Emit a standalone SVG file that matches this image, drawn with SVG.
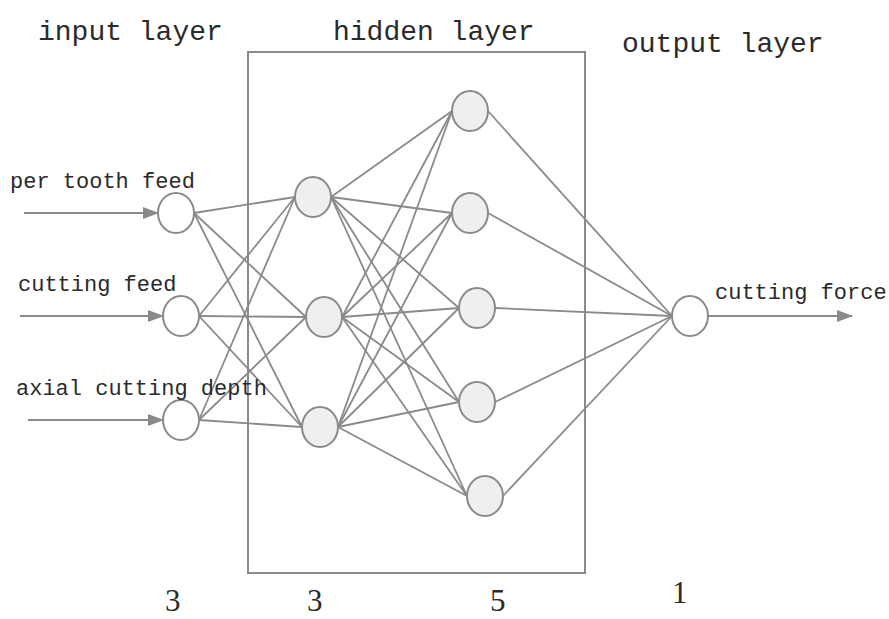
<svg xmlns="http://www.w3.org/2000/svg" width="889" height="619" viewBox="0 0 889 619">
<style>
.t{font-family:"Liberation Mono","DejaVu Sans Mono",monospace;fill:#2a2a2a}
.h{font-size:28px}
.l{font-size:22px}
.n{font-family:"Liberation Serif",serif;font-size:31px;fill:#2a2a2a}
.c line{stroke:#8a8a8a;stroke-width:1.8}
.a{stroke:#8a8a8a;stroke-width:2;marker-end:url(#ar)}
.in ellipse{fill:#fff;stroke:#8a8a8a;stroke-width:2}
.hid ellipse{fill:#efefef;stroke:#8a8a8a;stroke-width:2}
</style>
<defs>
<marker id="ar" markerWidth="16" markerHeight="12" refX="15" refY="6" orient="auto" markerUnits="userSpaceOnUse">
<path d="M0,0 L16,6 L0,12 Z" fill="#8a8a8a"/>
</marker>
</defs>
<rect width="889" height="619" fill="#fff"/>
<rect x="248" y="52" width="337" height="521" fill="none" stroke="#8a8a8a" stroke-width="2"/>
<text class="t h" x="38" y="40">input layer</text>
<text class="t h" x="333" y="40">hidden layer</text>
<text class="t h" x="622" y="52">output layer</text>
<g class="c" id="connectors">
<line x1="194" y1="213" x2="295" y2="197"/>
<line x1="194" y1="213" x2="306" y2="317"/>
<line x1="194" y1="213" x2="302" y2="427"/>
<line x1="199" y1="316" x2="295" y2="197"/>
<line x1="199" y1="316" x2="306" y2="317"/>
<line x1="199" y1="316" x2="302" y2="427"/>
<line x1="199" y1="420" x2="295" y2="197"/>
<line x1="199" y1="420" x2="306" y2="317"/>
<line x1="199" y1="420" x2="302" y2="427"/>
<line x1="331" y1="197" x2="452" y2="111"/>
<line x1="331" y1="197" x2="452" y2="213"/>
<line x1="331" y1="197" x2="459" y2="308"/>
<line x1="331" y1="197" x2="459" y2="402"/>
<line x1="331" y1="197" x2="467" y2="496"/>
<line x1="342" y1="317" x2="452" y2="111"/>
<line x1="342" y1="317" x2="452" y2="213"/>
<line x1="342" y1="317" x2="459" y2="308"/>
<line x1="342" y1="317" x2="459" y2="402"/>
<line x1="342" y1="317" x2="467" y2="496"/>
<line x1="338" y1="427" x2="452" y2="111"/>
<line x1="338" y1="427" x2="452" y2="213"/>
<line x1="338" y1="427" x2="459" y2="308"/>
<line x1="338" y1="427" x2="459" y2="402"/>
<line x1="338" y1="427" x2="467" y2="496"/>
<line x1="488" y1="111" x2="672" y2="316"/>
<line x1="488" y1="213" x2="672" y2="316"/>
<line x1="495" y1="308" x2="672" y2="316"/>
<line x1="495" y1="402" x2="672" y2="316"/>
<line x1="503" y1="496" x2="672" y2="316"/>
<line class="a" x1="24" y1="213" x2="158" y2="213"/>
<line class="a" x1="20" y1="316" x2="163" y2="316"/>
<line class="a" x1="28" y1="420" x2="163" y2="420"/>
<line class="a" x1="708" y1="316" x2="852" y2="316"/>
</g>
<g id="in1" class="in"><ellipse cx="176" cy="213" rx="18" ry="20"/></g>
<g id="in2" class="in"><ellipse cx="181" cy="316" rx="18" ry="20"/></g>
<g id="in3" class="in"><ellipse cx="181" cy="420" rx="18" ry="20"/></g>
<g id="h1" class="hid"><ellipse cx="313" cy="197" rx="18" ry="20"/></g>
<g id="h2" class="hid"><ellipse cx="324" cy="317" rx="18" ry="20"/></g>
<g id="h3" class="hid"><ellipse cx="320" cy="427" rx="18" ry="20"/></g>
<g id="g1" class="hid"><ellipse cx="470" cy="111" rx="18" ry="20"/></g>
<g id="g2" class="hid"><ellipse cx="470" cy="213" rx="18" ry="20"/></g>
<g id="g3" class="hid"><ellipse cx="477" cy="308" rx="18" ry="20"/></g>
<g id="g4" class="hid"><ellipse cx="477" cy="402" rx="18" ry="20"/></g>
<g id="g5" class="hid"><ellipse cx="485" cy="496" rx="18" ry="20"/></g>
<g id="out" class="in"><ellipse cx="690" cy="316" rx="18" ry="20"/></g>
<text class="t l" x="10" y="188">per tooth feed</text>
<text class="t l" x="18" y="291">cutting feed</text>
<text class="t l" x="16" y="395">axial cutting depth</text>
<text class="t l" x="715" y="299">cutting force</text>
<text class="n" x="165" y="611">3</text>
<text class="n" x="307" y="611">3</text>
<text class="n" x="490" y="611">5</text>
<text class="n" x="672" y="603">1</text>
</svg>
